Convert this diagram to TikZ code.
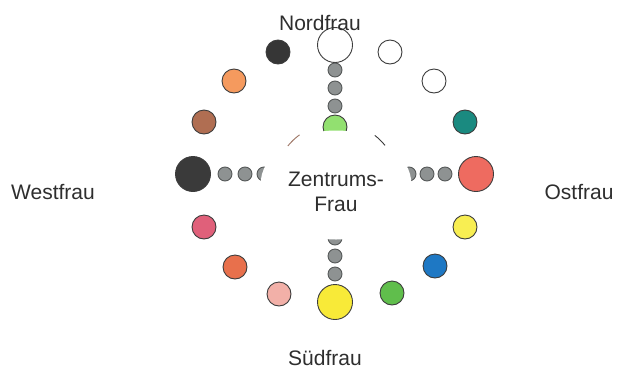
\documentclass[tikz,border=0pt]{standalone}
\usepackage{fontspec}
\setmainfont{Liberation Sans}
\usepackage{tikz}
\usetikzlibrary{shapes.geometric}
\pgfdeclarelayer{dotlayer}
\pgfdeclarelayer{coverlayer}
\pgfsetlayers{dotlayer,coverlayer,main}
\definecolor{rim}{HTML}{3C3C3C}
\definecolor{ink}{HTML}{2E2E2E}
\definecolor{dotgray}{HTML}{8E9292}
\definecolor{westblack}{HTML}{3A3A3A}
\definecolor{ostred}{HTML}{EE6B60}
\definecolor{suedyellow}{HTML}{F8EA38}
\definecolor{darkdot}{HTML}{363636}
\definecolor{orangedot}{HTML}{F59A5E}
\definecolor{browndot}{HTML}{B06E52}
\definecolor{tealdot}{HTML}{1A8A80}
\definecolor{pinkdot}{HTML}{E0607A}
\definecolor{yellowdot}{HTML}{F8EE52}
\definecolor{reddot}{HTML}{E8704C}
\definecolor{bluedot}{HTML}{1E78C4}
\definecolor{rosedot}{HTML}{F2B0A8}
\definecolor{greendot}{HTML}{60BE4C}
\definecolor{limedot}{HTML}{92E070}
\tikzstyle{none} = []
\tikzstyle{dot} = [circle, draw=rim, line width=0.9pt, inner sep=0pt]
\tikzstyle{bigdot} = [dot, minimum size=35pt]
\tikzstyle{smalldot} = [dot, minimum size=24pt]
\tikzstyle{graydot} = [dot, minimum size=14pt, fill=dotgray, draw=dotgray!60!black]
\tikzstyle{compass} = [text=ink, font=\fontsize{21}{25}\selectfont, inner sep=0pt]
\tikzstyle{cover} = [ellipse, fill=white, minimum width=151pt, minimum height=109pt, inner sep=0pt]

\begin{document}
\begin{tikzpicture}[x=1pt, y=-1pt]
	\useasboundingbox (0, 0) rectangle (617, 370);
	\begin{pgfonlayer}{dotlayer}
		\node [style=bigdot, fill=white] (0) at (335, 45) {};
		\node [style=bigdot, fill=westblack] (1) at (193, 174) {};
		\node [style=bigdot, fill=ostred] (2) at (476, 174) {};
		\node [style=bigdot, fill=suedyellow] (3) at (335, 302) {};
		\node [style=smalldot, fill=darkdot] (4) at (278, 52) {};
		\node [style=smalldot, fill=white] (5) at (390, 52) {};
		\node [style=smalldot, fill=orangedot] (6) at (234, 81) {};
		\node [style=smalldot, fill=white] (7) at (434, 81) {};
		\node [style=smalldot, fill=browndot] (8) at (204, 122) {};
		\node [style=smalldot, fill=tealdot] (9) at (465, 122) {};
		\node [style=smalldot, fill=pinkdot] (10) at (204, 227) {};
		\node [style=smalldot, fill=yellowdot] (11) at (465, 227) {};
		\node [style=smalldot, fill=reddot] (12) at (235, 267) {};
		\node [style=smalldot, fill=bluedot] (13) at (435, 266) {};
		\node [style=smalldot, fill=rosedot] (14) at (279, 294) {};
		\node [style=smalldot, fill=greendot] (15) at (392, 293) {};
		\node [style=smalldot, fill=limedot] (16) at (335, 127) {};
		\node [style=graydot] (17) at (335, 70) {};
		\node [style=graydot] (18) at (335, 88) {};
		\node [style=graydot] (19) at (335, 106) {};
		\node [style=graydot] (20) at (225, 174) {};
		\node [style=graydot] (21) at (245, 174) {};
		\node [style=graydot] (22) at (264, 174) {};
		\node [style=graydot] (23) at (445, 174) {};
		\node [style=graydot] (24) at (427, 174) {};
		\node [style=graydot] (25) at (409, 174) {};
		\node [style=graydot] (26) at (335, 274) {};
		\node [style=graydot] (27) at (335, 256) {};
		\node [style=graydot] (28) at (335, 238) {};
	\end{pgfonlayer}
	\begin{pgfonlayer}{coverlayer}
		\node [style=cover] (29) at (336, 185) {};
	\end{pgfonlayer}
	\node [style=compass, align=center] (30) at (336, 192) {Zentrums-\\Frau};
	\node [style=compass] (31) at (320, 23) {Nordfrau};
	\node [style=compass] (32) at (53, 192) {Westfrau};
	\node [style=compass] (33) at (579, 192) {Ostfrau};
	\node [style=compass] (34) at (325, 358) {Südfrau};
	\draw [line width=0.9pt, draw=browndot!60!gray] (29.center) ++(219:62) arc (219:234:62);
	\draw [line width=0.9pt, draw=rim] (29.center) ++(308:63) arc (308:321:63);
\end{tikzpicture}
\end{document}
